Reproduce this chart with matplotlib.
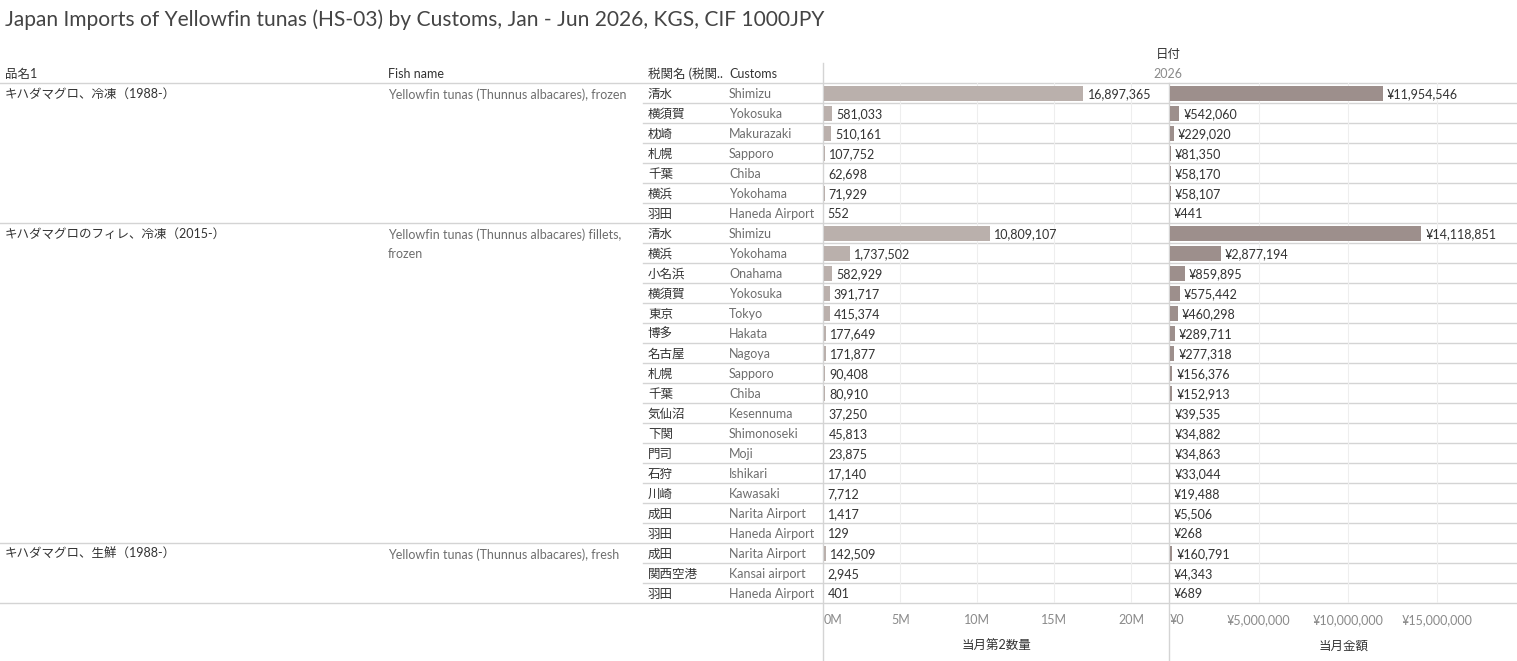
import matplotlib
matplotlib.use("Agg")
import matplotlib.pyplot as plt

plt.rcParams['font.family'] = ['Lato', 'Noto Sans CJK JP', 'DejaVu Sans']

# ---- data ----
groups_jp = ["キハダマグロ、冷凍（1988-）", "キハダマグロのフィレ、冷凍（2015-）", "キハダマグロ、生鮮（1988-）"]
groups_en = ["Yellowfin tunas (Thunnus albacares), frozen",
             "Yellowfin tunas (Thunnus albacares) fillets,\nfrozen",
             "Yellowfin tunas (Thunnus albacares), fresh"]
group_sizes = [7, 16, 3]

customs_jp = ["清水", "横須賀", "枕崎", "札幌", "千葉", "横浜", "羽田",
              "清水", "横浜", "小名浜", "横須賀", "東京", "博多", "名古屋", "札幌",
              "千葉", "気仙沼", "下関", "門司", "石狩", "川崎", "成田", "羽田",
              "成田", "関西空港", "羽田"]
customs_en = ["Shimizu", "Yokosuka", "Makurazaki", "Sapporo", "Chiba", "Yokohama", "Haneda Airport",
              "Shimizu", "Yokohama", "Onahama", "Yokosuka", "Tokyo", "Hakata", "Nagoya", "Sapporo",
              "Chiba", "Kesennuma", "Shimonoseki", "Moji", "Ishikari", "Kawasaki", "Narita Airport",
              "Haneda Airport",
              "Narita Airport", "Kansai airport", "Haneda Airport"]
quantity = [16897365, 581033, 510161, 107752, 62698, 71929, 552,
            10809107, 1737502, 582929, 391717, 415374, 177649, 171877, 90408,
            80910, 37250, 45813, 23875, 17140, 7712, 1417, 129,
            142509, 2945, 401]
amount = [11954546, 542060, 229020, 81350, 58170, 58107, 441,
          14118851, 2877194, 859895, 575442, 460298, 289711, 277318, 156376,
          152913, 39535, 34882, 34863, 33044, 19488, 5506, 268,
          160791, 4343, 689]

qty_ticks = [0, 5e6, 10e6, 15e6, 20e6]
qty_tick_labels = ["0M", "5M", "10M", "15M", "20M"]
amt_ticks = [0, 5e6, 10e6, 15e6]
amt_tick_labels = ["¥0", "¥5,000,000", "¥10,000,000", "¥15,000,000"]

# ---- layout (pixels) ----
W, H = 1517, 661
TOP, ROW = 83, 20
n = len(quantity)
BOTTOM = TOP + ROW * n
P1, P2, P3 = 823.5, 1169.5, 1517

LINE = "#d4d4d4"
DARK = "#333333"
GRAY = "#6e6e6e"

fig = plt.figure(figsize=(W / 100, H / 100), dpi=100)
bg = fig.add_axes([0, 0, 1, 1])
bg.set_xlim(0, W)
bg.set_ylim(H, 0)
bg.axis('off')

bg.text(5, 20, "Japan Imports of Yellowfin tunas (HS-03) by Customs, Jan - Jun 2026, KGS, CIF 1000JPY",
        fontsize=15.1, color="#444444", va='center', ha='left')

fs = 9
jp_dy = 1.0   # CJK glyph boxes sit a little high
en_dy = 1.5
bg.text(5, 73 + jp_dy, "品名1", fontsize=fs, color=DARK, va='center')
bg.text(388, 73 + en_dy, "Fish name", fontsize=fs, color=DARK, va='center')
bg.text(648, 73 + jp_dy, "税関名 (税関..", fontsize=fs, color=DARK, va='center')
bg.text(729, 73 + en_dy, "Customs", fontsize=fs, color=DARK, va='center')
bg.text(1168, 53 + jp_dy, "日付", fontsize=fs, color=DARK, va='center', ha='center')
bg.text(1168, 73 + en_dy, "2026", fontsize=fs, color="#8a8a8a", va='center', ha='center')

# row text
for i in range(n):
    y = TOP + ROW * i + ROW / 2
    bg.text(648, y + jp_dy, customs_jp[i], fontsize=fs, color=DARK, va='center')
    bg.text(729, y + en_dy, customs_en[i], fontsize=fs, color=GRAY, va='center')

start = 0
boundaries = [0]
for g, size in enumerate(group_sizes):
    y = TOP + ROW * start + ROW / 2
    bg.text(5, y + jp_dy, groups_jp[g], fontsize=fs, color=DARK, va='center')
    for j, line in enumerate(groups_en[g].split("\n")):
        bg.text(388, y + 19 * j + en_dy, line, fontsize=fs, color=GRAY, va='center')
    start += size
    boundaries.append(start)

# grid lines
for k in range(n + 1):
    y = TOP + ROW * k
    x0 = 0 if k in boundaries else 643
    bg.plot([x0, W], [y, y], color=LINE, lw=1, zorder=0)
bg.plot([P1, P1], [63, H], color=LINE, lw=1, zorder=0)
bg.plot([P2, P2], [TOP, H], color=LINE, lw=1, zorder=0)


def panel(x0, x1, values, color, ticks, labels, xmax, title, prefix):
    ax = fig.add_axes([x0 / W, (H - BOTTOM) / H, (x1 - x0) / W, (BOTTOM - TOP) / H])
    ax.patch.set_alpha(0)
    ys = [i + 0.5 for i in range(len(values))]
    ax.barh(ys, values, height=0.75, color=color, zorder=2)
    for yv, v in zip(ys, values):
        ax.annotate(f"{prefix}{v:,}", (v, yv), xytext=(3, -1), textcoords='offset points',
                    va='center', ha='left', fontsize=fs, color=DARK, zorder=3)
    ax.set_xlim(0, xmax)
    ax.set_ylim(len(values), 0)
    ax.set_yticks([])
    ax.set_xticks(ticks)
    ax.set_xticklabels(labels, fontsize=fs, color="#8a8a8a")
    ax.get_xticklabels()[0].set_ha('left')
    ax.tick_params(axis='x', length=0, pad=8)
    for t in ticks[1:]:
        ax.axvline(t, color="#eeeeee", lw=0.8, zorder=0)
    for s in ax.spines.values():
        s.set_visible(False)
    ax.set_xlabel(title, fontsize=fs, color=DARK, labelpad=10)
    return ax


panel(P1, P2, quantity, "#bab0ac", qty_ticks, qty_tick_labels, 22.5e6, "当月第2数量", "")
panel(P2, P3, amount, "#9d8f8c", amt_ticks, amt_tick_labels, 19.5e6, "当月金額", "¥")

fig.savefig("out.png", dpi=100)
